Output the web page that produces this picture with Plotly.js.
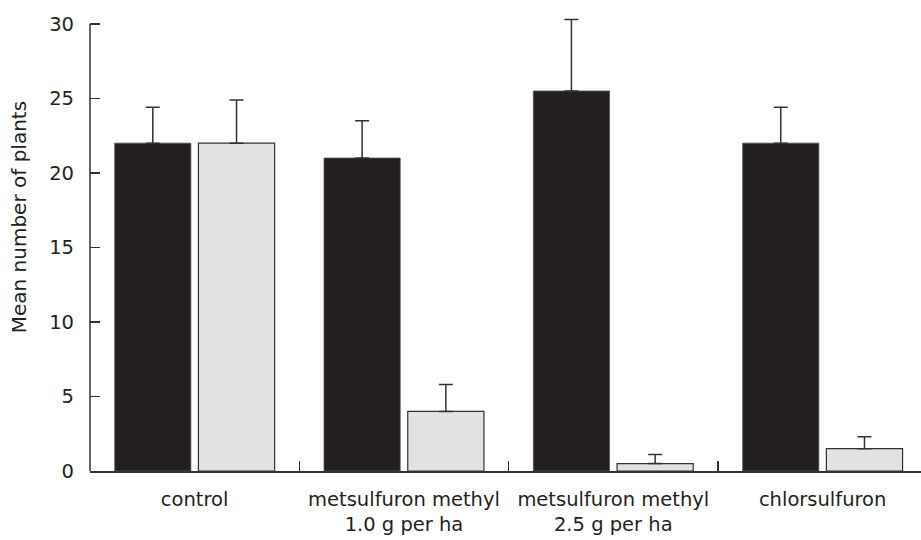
<!DOCTYPE html>
<html>
<head>
<meta charset="utf-8">
<script src="https://cdn.plot.ly/plotly-3.0.1.min.js"></script>
<style>html,body{margin:0;padding:0;background:#fff;}#chart{width:921px;height:540px;}</style>
</head>
<body>
<div id="chart"></div>
<script>
var categories = ["control", "metsulfuron methyl<br>1.0 g per ha", "metsulfuron methyl<br>2.5 g per ha", "chlorsulfuron"];
var darkValues = [22, 21, 25.5, 22];
var darkErrors = [2.4, 2.5, 4.8, 2.4];
var lightValues = [22, 4, 0.5, 1.5];
var lightErrors = [2.9, 1.8, 0.6, 0.8];
var yTickVals = [0, 5, 10, 15, 20, 25, 30];
var yTitle = "Mean number of plants";

var FONT = "DejaVu Sans, Liberation Sans, Arial, sans-serif";
var AX = "#333333";
var Y_TOP = 30;      // end of the drawn y-axis line
var Y_RANGE_TOP = 31; // room for the tallest error bar

function zeros(n){ var a=[]; for (var i=0;i<n;i++) a.push(0); return a; }

var traces = [
  {
    type: "bar", x: categories, y: darkValues,
    marker: {color: "#231f20", line: {color: "#555555", width: 0.8}},
    error_y: {type: "data", symmetric: false, array: darkErrors, arrayminus: zeros(darkErrors.length),
              color: "#333333", thickness: 1.5, width: 7},
    hoverinfo: "skip", showlegend: false
  },
  {
    type: "bar", x: categories, y: lightValues,
    marker: {color: "#e1e2e4", line: {color: "#333333", width: 1.2}},
    error_y: {type: "data", symmetric: false, array: lightErrors, arrayminus: zeros(lightErrors.length),
              color: "#333333", thickness: 1.5, width: 7},
    hoverinfo: "skip", showlegend: false
  }
];

// plot area: y=0 at px 471, y=30 at px 24 -> 14.9 px/unit
var pxPerUnit = 447 / 30;
var topMargin = Math.round(24 - (Y_RANGE_TOP - Y_TOP) * pxPerUnit);

var layout = {
  width: 921, height: 540,
  margin: {l: 90, r: 0, t: topMargin, b: 69},
  paper_bgcolor: "#ffffff", plot_bgcolor: "#ffffff",
  barmode: "group", bargap: 0.2, bargroupgap: 0.09,
  font: {family: FONT, size: 19.5, color: "#231f20"},
  showlegend: false,
  xaxis: {
    type: "category", range: [-0.5, 3.47],
    showline: true, linecolor: AX, linewidth: 1.5,
    ticks: "inside", tickson: "boundaries", ticklen: 10, tickwidth: 1.3, tickcolor: AX,
    showgrid: false, zeroline: false,
    tickfont: {family: FONT, size: 19.5, color: "#231f20"},
    ticklabelstandoff: 10
  },
  yaxis: {
    range: [0, Y_RANGE_TOP], tickmode: "array", tickvals: yTickVals,
    showline: false,
    ticks: "inside", ticklen: 10, tickwidth: 1.3, tickcolor: AX,
    showgrid: false, zeroline: false,
    tickfont: {family: FONT, size: 19.5, color: "#231f20"},
    ticklabelstandoff: 15
  },
  shapes: [{
    type: "line", xref: "paper", yref: "y", x0: 0, x1: 0, y0: 0, y1: Y_TOP,
    line: {color: AX, width: 1.5}, layer: "above"
  }],
  annotations: [{
    text: yTitle, xref: "paper", yref: "paper", x: -0.085, y: 0.55,
    xanchor: "center", yanchor: "middle", textangle: -90, showarrow: false,
    font: {family: FONT, size: 20, color: "#231f20"}
  }]
};

Plotly.newPlot("chart", traces, layout, {displayModeBar: false, staticPlot: true});
</script>
</body>
</html>
